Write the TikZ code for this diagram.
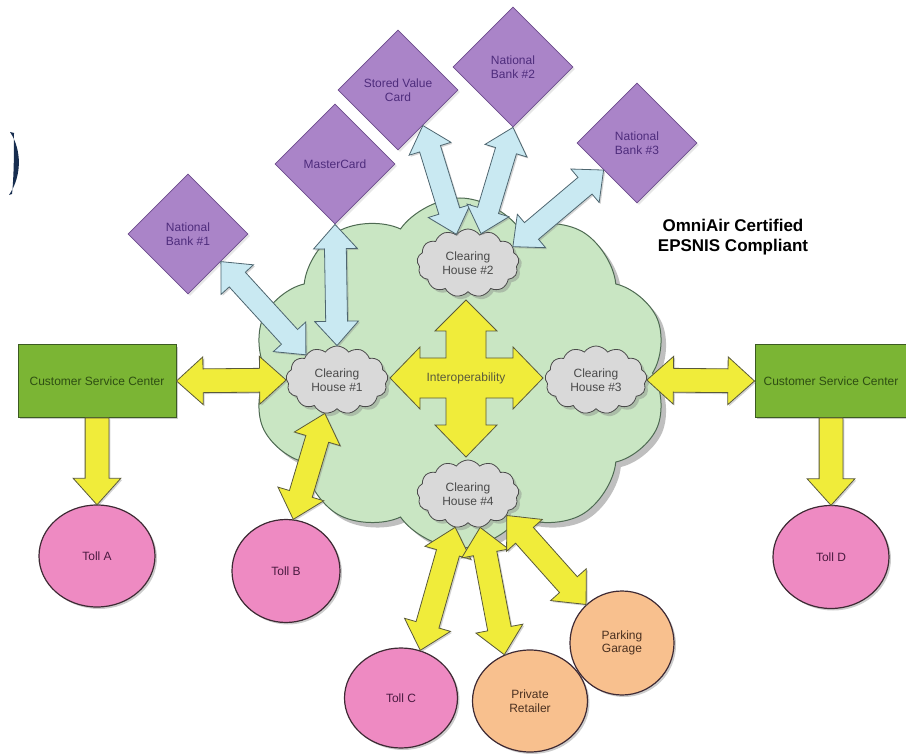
\documentclass[tikz,border=0pt]{standalone}
\usepackage{fontspec}
\setmainfont{Liberation Sans}
\usetikzlibrary{shapes.geometric, shapes.symbols, shapes.arrows, shadows, calc}

\definecolor{bankfill}{HTML}{AA84C8}
\definecolor{bankline}{HTML}{6C4C8C}
\definecolor{banktext}{HTML}{4E2C7C}
\definecolor{netfill}{HTML}{C9E6C3}
\definecolor{netline}{HTML}{4E6A52}
\definecolor{chfill}{HTML}{D9D9D9}
\definecolor{chline}{HTML}{4A4A4A}
\definecolor{cscfill}{HTML}{7BB534}
\definecolor{cscline}{HTML}{3C5A22}
\definecolor{csctext}{HTML}{2E4E12}
\definecolor{tollfill}{HTML}{EE8AC2}
\definecolor{tolltext}{HTML}{4A1A40}
\definecolor{shopfill}{HTML}{F8C08E}
\definecolor{shoptext}{HTML}{4A3020}
\definecolor{rimline}{HTML}{3E2A34}
\definecolor{yellowfill}{HTML}{F0EC3A}
\definecolor{yellowline}{HTML}{5A5A3A}
\definecolor{bluefill}{HTML}{C9E9F2}
\definecolor{blueline}{HTML}{4E6670}
\definecolor{bracketblue}{HTML}{172D4F}

\tikzset{
  lbl/.style={font=\fontsize{12}{13.5}\selectfont, align=center},
  bank/.style={lbl, diamond, aspect=1, minimum width=120pt, minimum height=120pt, inner sep=0pt,
    fill=bankfill, draw=bankline, line width=0.8pt, text=banktext,
    drop shadow={shadow xshift=2pt, shadow yshift=-2pt, opacity=0.2}},
  house/.style={lbl, cloud, cloud puffs=13, cloud puff arc=110, cloud ignores aspect,
    minimum width=102pt, minimum height=68pt, inner sep=0pt,
    fill=chfill, draw=chline, line width=0.8pt, text=chline,
    drop shadow={shadow xshift=3pt, shadow yshift=-3pt, opacity=0.4}},
  csc/.style={lbl, rectangle, minimum width=158pt, minimum height=72pt,
    fill=cscfill, draw=cscline, line width=1pt, text=csctext,
    drop shadow={shadow xshift=2pt, shadow yshift=-2pt, opacity=0.4}},
  toll/.style={lbl, ellipse, minimum width=116pt, minimum height=102pt, inner sep=0pt,
    fill=tollfill, draw=rimline, line width=1.2pt, text=tolltext,
    drop shadow={shadow xshift=2pt, shadow yshift=-2pt, opacity=0.4}},
  shop/.style={toll, fill=shopfill, text=shoptext},
  yellowlink/.style={double arrow, inner xsep=0pt, inner ysep=11.5pt, double arrow head extend=12pt,
    double arrow tip angle=84, fill=yellowfill, draw=yellowline, line width=0.8pt,
    drop shadow={shadow xshift=1.5pt, shadow yshift=-1.5pt, opacity=0.35}},
  yellowpush/.style={single arrow, inner xsep=0pt, inner ysep=11.5pt, single arrow head extend=12pt,
    single arrow tip angle=84, fill=yellowfill, draw=yellowline, line width=0.8pt,
    drop shadow={shadow xshift=1.5pt, shadow yshift=-1.5pt, opacity=0.35}},
  bluelink/.style={double arrow, inner xsep=0pt, inner ysep=10.5pt, double arrow head extend=11pt,
    double arrow tip angle=84, fill=bluefill, draw=blueline, line width=0.8pt,
    drop shadow={shadow xshift=1.5pt, shadow yshift=-1.5pt, opacity=0.35}}
}

% fat arrow between two anchors
\newcommand{\fatlink}[3]{%
  \path let \p1=(#2), \p2=(#3), \n1={atan2(\y2-\y1,\x2-\x1)}, \n2={veclen(\x2-\x1,\y2-\y1)} in
    node[#1, rotate=\n1, minimum height=\n2] at ($(\p1)!0.5!(\p2)$) {};}
% one-way fat arrow
\newcommand{\fatpush}[3]{%
  \path let \p1=(#2), \p2=(#3), \n1={atan2(\y2-\y1,\x2-\x1)}, \n2={veclen(\x2-\x1,\y2-\y1)} in
    node[#1, rotate=\n1, minimum height=\n2, anchor=tail] at (\p1) {};}

\begin{document}
\begin{tikzpicture}[x=1pt, y=-1pt]
\useasboundingbox (0,0) rectangle (906,754);

% network cloud
\node[cloud, cloud puffs=10, cloud puff arc=110, cloud ignores aspect, minimum width=415pt, minimum height=350pt,
  fill=netfill, draw=netline, line width=1pt,
  drop shadow={shadow xshift=5pt, shadow yshift=-5pt, opacity=0.5}] (net) at (460,373) {};

% interoperability cross
\coordinate (hub) at (466,378);
\begin{scope}[shift={(hub)}]
\draw[fill=yellowfill, draw=yellowline, line width=0.8pt]
  (0,-78) -- (31,-47) -- (20,-47) -- (20,-20) -- (47,-20) -- (47,-31) -- (77,0)
  -- (47,31) -- (47,20) -- (20,20) -- (20,47) -- (31,47) -- (0,79) -- (-31,47)
  -- (-20,47) -- (-20,20) -- (-46,20) -- (-46,31) -- (-76,0) -- (-46,-31)
  -- (-46,-20) -- (-20,-20) -- (-20,-47) -- (-31,-47) -- cycle;
\end{scope}
\node[lbl, text=yellowline] (interop) at (hub) {Interoperability};

% clearing houses
\node[house] (ch1) at (337,380) {Clearing\\House \#1};
\node[house] (ch2) at (468,263) {Clearing\\House \#2};
\node[house] (ch3) at (596,380) {Clearing\\House \#3};
\node[house] (ch4) at (468,494) {Clearing\\House \#4};

% banks and cards
\node[bank] (nb1) at (188,234) {National\\Bank \#1};
\node[bank] (mc) at (335,164) {MasterCard};
\node[bank] (svc) at (398,90) {Stored Value\\Card};
\node[bank] (nb2) at (513,67) {National\\Bank \#2};
\node[bank] (nb3) at (637,143) {National\\Bank \#3};

% service centers
\node[csc] (cscL) at (97,381) {Customer Service Center};
\node[csc, minimum width=152pt] (cscR) at (831,381) {Customer Service Center};

% tolls and merchants
\node[toll] (tollA) at (97,556) {Toll A};
\node[toll, minimum width=108pt, minimum height=103pt] (tollB) at (286,571) {Toll B};
\node[toll, minimum width=113pt, minimum height=100pt] (tollC) at (401,698) {Toll C};
\node[shop, minimum width=115pt] (retail) at (530,701) {Private\\Retailer};
\node[shop, minimum width=104pt, minimum height=104pt] (garage) at (622,643) {Parking\\Garage};
\node[toll, minimum height=103pt] (tollD) at (831,557) {Toll D};

% links
\fatlink{bluelink}{nb1.-40}{ch1.141}
\fatlink{bluelink}{mc.south}{ch1.north}
\fatlink{bluelink}{svc.-55}{ch2.112}
\fatlink{bluelink}{nb2.south}{ch2.66}
\fatlink{bluelink}{nb3.-141}{ch2.20}
\fatlink{yellowlink}{cscL.east}{ch1.west}
\fatpush{yellowpush}{cscL.south}{tollA.north}
\fatlink{yellowlink}{ch1.-110}{tollB.82}
\fatlink{yellowlink}{ch3.east}{cscR.west}
\fatpush{yellowpush}{cscR.south}{tollD.north}
\fatlink{yellowlink}{ch4.-111}{tollC.68}
\fatlink{yellowlink}{ch4.-70}{retail.119}
\fatlink{yellowlink}{ch4.-29}{garage.133}

\node[font=\fontsize{17}{20}\selectfont\bfseries, align=center] (badge) at (733,237) {OmniAir Certified\\EPSNIS Compliant};

\fill[bracketblue] (10,132) .. controls (22,150) and (22,176) .. (9,195) -- (12,194) .. controls (14,176) and (14,150) .. (14,133) -- cycle; % bracket
\end{tikzpicture}
\end{document}
